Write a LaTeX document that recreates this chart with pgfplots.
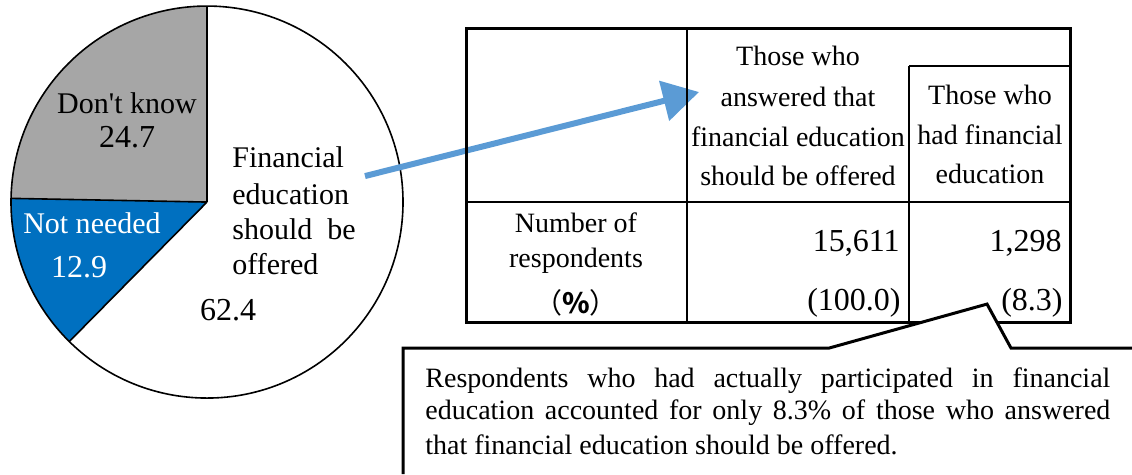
\documentclass[border=0pt]{standalone}
\usepackage{pgfplots}
\pgfplotsset{compat=1.18}
\usepackage{fontspec}
\setmainfont{Liberation Serif}
\newfontfamily\cjk{Noto Sans CJK JP}
\usetikzlibrary{arrows.meta}
\definecolor{pgray}{RGB}{166,166,166}
\definecolor{pblue}{RGB}{0,112,192}
\definecolor{arrowblue}{RGB}{91,155,213}

\begin{document}
\begin{tikzpicture}
% shares of the pie (%)
\def\pDK{24.7}\def\pNN{12.9}\def\pYes{62.4}
\pgfmathsetmacro\aA{90+3.6*\pDK}
\pgfmathsetmacro\aB{\aA+3.6*\pNN}
\pgfmathsetmacro\aC{\aB+3.6*\pYes}
\begin{axis}[
  scale only axis, width=566pt, height=237pt,
  xmin=0, xmax=1132, ymin=0, ymax=474, y dir=reverse,
  hide axis, clip=false,
]
% pie
\fill[pgray] (axis cs:207,202) -- ++(90:98pt) arc[start angle=90, end angle=\aA, radius=98pt] -- cycle;
\fill[pblue] (axis cs:207,202) -- ++(\aA:98pt) arc[start angle=\aA, end angle=\aB, radius=98pt] -- cycle;
\fill[white] (axis cs:207,202) -- ++(\aB:98pt) arc[start angle=\aB, end angle=\aC, radius=98pt] -- cycle;
\draw[line width=0.8pt] (axis cs:207,202) circle[radius=98pt];
\draw[line width=0.8pt] (axis cs:207,202) -- ++(90:98pt);
\draw[line width=0.8pt] (axis cs:207,202) -- ++(\aA:98pt);
\draw[line width=0.8pt] (axis cs:207,202) -- ++(\aB:98pt);

\begin{scope}[every node/.style={inner sep=0pt, font=\fontsize{15}{18}\selectfont}]
\node at (axis cs:127,103) {Don\textquotesingle t know};
\node[font=\fontsize{16}{18}\selectfont] at (axis cs:127,137) {\pDK};
\node[white] at (axis cs:92,223) {Not needed};
\node[white, font=\fontsize{16}{18}\selectfont] at (axis cs:79,267) {\pNN};
\node[anchor=west] at (axis cs:232,157) {Financial};
\node[anchor=west] at (axis cs:232,194) {education};
\node[anchor=west] at (axis cs:232,229) {should~~be};
\node[anchor=west] at (axis cs:232,264) {offered};
\node[font=\fontsize{16}{18}\selectfont] at (axis cs:228,310) {\pYes};
\end{scope}

% arrow
\draw[arrowblue, line width=3pt, -{Triangle[length=18pt,width=20pt]}] (axis cs:365,176) -- (axis cs:699,92);

% table
\draw[line width=1.5pt] (axis cs:466,28) rectangle (axis cs:1070,322);
\draw[line width=1.2pt] (axis cs:687,28) -- (axis cs:687,322);
\draw[line width=1.2pt] (axis cs:909,66) -- (axis cs:909,322);
\draw[line width=1.2pt] (axis cs:909,66) -- (axis cs:1070,66);
\draw[line width=1.2pt] (axis cs:466,202) -- (axis cs:1070,202);

\begin{scope}[every node/.style={inner sep=0pt, font=\fontsize{14}{16}\selectfont}]
\node at (axis cs:798,56) {Those who};
\node at (axis cs:798,97) {answered that};
\node at (axis cs:798,137) {financial education};
\node at (axis cs:798,176) {should be offered};
\node at (axis cs:990,95) {Those who};
\node at (axis cs:990,135) {had financial};
\node at (axis cs:990,174) {education};
\node at (axis cs:576,223) {Number of};
\node at (axis cs:576,261) {respondents};
\node[font=\cjk\fontsize{14}{16}\selectfont] at (axis cs:576,303) {（\textbf{\%}）};
\node[anchor=east, font=\fontsize{16}{18}\selectfont] at (axis cs:900,243) {15,611};
\node[anchor=east, font=\fontsize{16}{18}\selectfont] at (axis cs:901,303) {(100.0)};
\node[anchor=east, font=\fontsize{16}{18}\selectfont] at (axis cs:1062,243) {1,298};
\node[anchor=east, font=\fontsize{16}{18}\selectfont] at (axis cs:1063,303) {(8.3)};
\end{scope}

% callout
\fill[white] (axis cs:403,474) -- (axis cs:403,348) -- (axis cs:829,348) -- (axis cs:987,304)
  -- (axis cs:1011,348) -- (axis cs:1132,348) -- (axis cs:1132,474) -- cycle;
\draw[line width=1.5pt] (axis cs:403,474) -- (axis cs:403,348) -- (axis cs:829,348) -- (axis cs:987,304)
  -- (axis cs:1011,348) -- (axis cs:1132,348);
\begin{scope}[every node/.style={inner sep=0pt, anchor=west, font=\fontsize{14}{16}\selectfont}]
\node at (axis cs:425,381) {\makebox[342.5pt][s]{Respondents who had actually participated in financial}};
\node at (axis cs:425,413) {\makebox[342.5pt][s]{education accounted for only 8.3\% of those who answered}};
\node at (axis cs:425,445) {that financial education should be offered.};
\end{scope}
\end{axis}
\pgfresetboundingbox
\useasboundingbox (current axis.south west) rectangle (current axis.north east);
\end{tikzpicture}
\end{document}
